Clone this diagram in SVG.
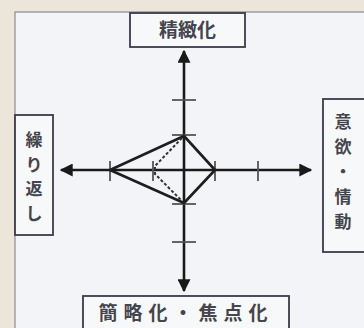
<svg xmlns="http://www.w3.org/2000/svg" width="364" height="328" viewBox="0 0 364 328">
<style>
.box{fill:#f7f8fa;stroke:#3a3a4a;stroke-width:1.8}
.lbl{font-family:"Noto Sans CJK JP","Noto Sans CJK SC",sans-serif;font-size:19px;fill:#45454d;text-anchor:middle;font-weight:bold}
.v{font-size:17px}
.axis{stroke:#1a1a1a;stroke-width:2.6;fill:none}
.tick{stroke:#555;stroke-width:1.8}
.shape{stroke:#1e1e1e;stroke-width:2.6;fill:none;stroke-linejoin:round}
.dash{stroke:#333;stroke-width:2;stroke-dasharray:3 2;fill:none}
</style>
<defs>
<marker id="ah" viewBox="0 0 10 10" refX="9" refY="5" markerWidth="5.5" markerHeight="5" orient="auto" markerUnits="strokeWidth">
<path d="M0,0 L10,5 L0,10 Z" fill="#1a1a1a"/>
</marker>
</defs>
<rect x="0" y="0" width="364" height="328" fill="#ece5da"/>
<rect x="15" y="12" width="352" height="320" fill="#f3f4f7" stroke="#8a8a90" stroke-width="1.2"/>
<g id="connectors">
<line class="axis" x1="184" y1="170" x2="184" y2="51" marker-end="url(#ah)"/>
<line class="axis" x1="184" y1="170" x2="184" y2="291" marker-end="url(#ah)"/>
<line class="axis" x1="184" y1="170" x2="61" y2="170" marker-end="url(#ah)"/>
<line class="axis" x1="184" y1="170" x2="311" y2="170" marker-end="url(#ah)"/>
<g class="tick">
<line x1="172" y1="100" x2="196" y2="100"/>
<line x1="172" y1="135" x2="196" y2="135"/>
<line x1="172" y1="204" x2="196" y2="204"/>
<line x1="172" y1="242" x2="196" y2="242"/>
<line x1="110" y1="161" x2="110" y2="181"/>
<line x1="153" y1="161" x2="153" y2="181"/>
<line x1="215" y1="161" x2="215" y2="181"/>
<line x1="258" y1="161" x2="258" y2="181"/>
</g>
<polygon class="shape" points="110,170 184,136 215,170 184,203"/>
<polyline class="dash" points="182,138 155,166 155,174 182,201"/>
</g>
<g id="top">
<rect class="box" x="130" y="13" width="115" height="34"/>
<text class="lbl" x="187.5" y="37">精緻化</text>
</g>
<g id="bottom">
<rect class="box" x="83" y="296" width="206" height="34"/>
<text class="lbl" x="186" y="320" letter-spacing="6">簡略化・焦点化</text>
</g>
<g id="left">
<rect class="box" x="15" y="115" width="38" height="120"/>
<text class="lbl v" x="34" y="146">繰</text>
<text class="lbl v" x="34" y="170.5">り</text>
<text class="lbl v" x="34" y="195">返</text>
<text class="lbl v" x="34" y="219.5">し</text>
</g>
<g id="right">
<rect class="box" x="323" y="99" width="44" height="153"/>
<text class="lbl v" x="343" y="128">意</text>
<text class="lbl v" x="343" y="153">欲</text>
<text class="lbl v" x="343" y="178">・</text>
<text class="lbl v" x="343" y="203">情</text>
<text class="lbl v" x="343" y="228">動</text>
</g>
</svg>
